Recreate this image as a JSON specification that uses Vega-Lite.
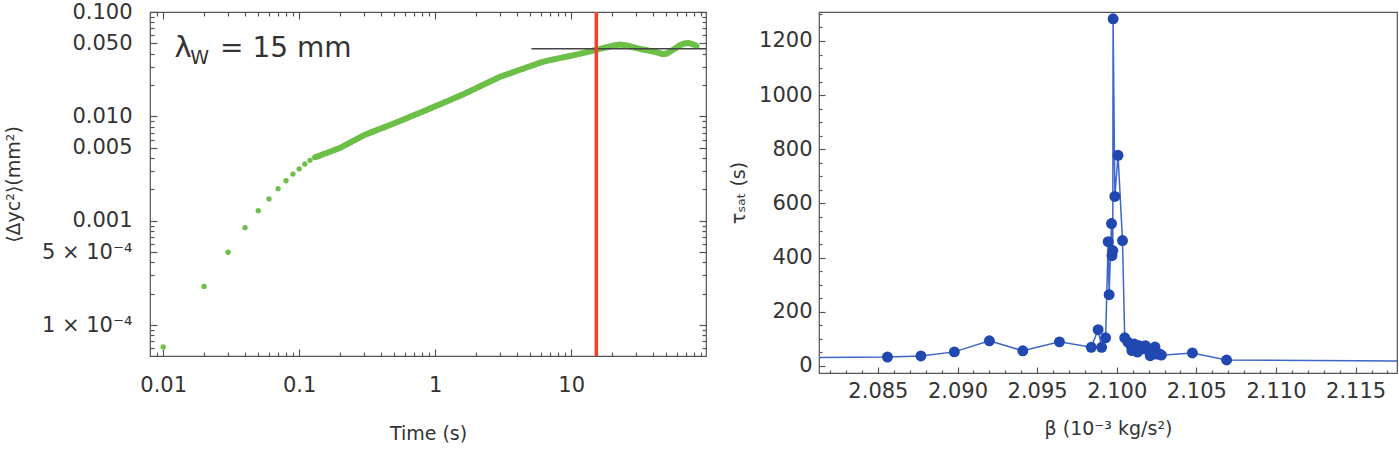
{
  "$schema": "https://vega.github.io/schema/vega-lite/v6.json",
  "padding": {"left": 3, "top": 0, "right": 0, "bottom": 0},
  "background": "white",
  "config": {
    "font": "DejaVu Sans",
    "view": {"stroke": "#555", "strokeWidth": 1.2},
    "axis": {"labelFont": "DejaVu Sans", "labelFontSize": 21, "labelColor": "#333", "titleFont": "DejaVu Sans", "titleFontSize": 19, "titleFontWeight": "normal", "titleColor": "#333", "domain": false, "grid": false, "tickColor": "#555", "tickWidth": 1.2}
  },
  "datasets": {
    "curve": [
      {"t":0.01,"v":6.2e-5},{"t":0.02,"v":2.35e-4},{"t":0.03,"v":5.0e-4},{"t":0.04,"v":8.6e-4},{"t":0.05,"v":1.25e-3},{"t":0.06,"v":1.62e-3},{"t":0.07,"v":2.03e-3},{"t":0.08,"v":2.42e-3},{"t":0.09,"v":2.8e-3},{"t":0.10,"v":3.15e-3},{"t":0.11,"v":3.5e-3},{"t":0.12,"v":3.8e-3},
      {"t":0.13,"v":4.05e-3},{"t":0.14,"v":4.19e-3},{"t":0.15,"v":4.34e-3},{"t":0.16,"v":4.47e-3},{"t":0.17,"v":4.61e-3},{"t":0.18,"v":4.74e-3},{"t":0.19,"v":4.88e-3},{"t":0.20,"v":5.0e-3},{"t":0.22,"v":5.33e-3},{"t":0.24,"v":5.66e-3},{"t":0.26,"v":5.98e-3},{"t":0.28,"v":6.29e-3},{"t":0.30,"v":6.61e-3},{"t":0.33,"v":6.95e-3},{"t":0.36,"v":7.26e-3},{"t":0.39,"v":7.57e-3},{"t":0.42,"v":7.85e-3},{"t":0.46,"v":8.24e-3},{"t":0.50,"v":8.59e-3},{"t":0.54,"v":8.95e-3},{"t":0.58,"v":9.29e-3},{"t":0.63,"v":9.72e-3},{"t":0.68,"v":0.01014},{"t":0.74,"v":0.01059},{"t":0.80,"v":0.01104},{"t":0.87,"v":0.01157},{"t":0.94,"v":0.01207},{"t":1.02,"v":0.01263},{"t":1.1,"v":0.01318},{"t":1.2,"v":0.01383},{"t":1.3,"v":0.01445},{"t":1.4,"v":0.01507},{"t":1.5,"v":0.01564},{"t":1.6,"v":0.01622},{"t":1.75,"v":0.01715},{"t":1.9,"v":0.01806},{"t":2.05,"v":0.01893},{"t":2.2,"v":0.01977},{"t":2.4,"v":0.02089},{"t":2.6,"v":0.02195},{"t":2.8,"v":0.02298},{"t":3.0,"v":0.02399},{"t":3.25,"v":0.02489},{"t":3.5,"v":0.02573},{"t":3.8,"v":0.02673},{"t":4.1,"v":0.02767},{"t":4.4,"v":0.02857},{"t":4.8,"v":0.02973},{"t":5.2,"v":0.03085},{"t":5.6,"v":0.0319},{"t":6.0,"v":0.03293},{"t":6.5,"v":0.03388},{"t":7.0,"v":0.03457},{"t":7.5,"v":0.03524},{"t":8.1,"v":0.03598},{"t":8.7,"v":0.03673},{"t":9.4,"v":0.0375},{"t":10.1,"v":0.03826},{"t":10.9,"v":0.03908},{"t":11.7,"v":0.03994},{"t":12.6,"v":0.04087},{"t":13.6,"v":0.04188},{"t":14.6,"v":0.0428},{"t":15.7,"v":0.04381},{"t":16.9,"v":0.04485},{"t":18.2,"v":0.04592},{"t":19.6,"v":0.04699},{"t":21.1,"v":0.0481},{"t":22.7,"v":0.0488},{"t":24.4,"v":0.0484},{"t":26.3,"v":0.0475},{"t":28.3,"v":0.0462},{"t":30.5,"v":0.045},{"t":32.8,"v":0.044},{"t":35.3,"v":0.0432},{"t":38,"v":0.0424},{"t":41,"v":0.0416},{"t":44,"v":0.0405},{"t":47,"v":0.0395},{"t":50.5,"v":0.04},{"t":54.5,"v":0.0425},{"t":58.5,"v":0.045},{"t":63,"v":0.048},{"t":68,"v":0.05},{"t":73,"v":0.0505},{"t":78.5,"v":0.049},{"t":84,"v":0.0472}
    ],
    "hline": [{"t":5.1,"t2":98,"v":0.0444}],
    "vline": [{"t":15.3}],
    "lam": [{"t":0.0121,"v":0.0373,"label":"λ"}],
    "sub": [{"t":0.0158,"v":0.032,"label":"W"}],
    "eq": [{"t":0.0262,"v":0.0373,"label":"= 15 mm"}],
    "beta": [
      {"b":2.078,"tau":30},{"b":2.0856,"tau":33},{"b":2.0877,"tau":37},{"b":2.0898,"tau":52},{"b":2.092,"tau":93},{"b":2.0941,"tau":56},{"b":2.0964,"tau":89},{"b":2.0984,"tau":69},{"b":2.09883,"tau":134},{"b":2.09905,"tau":69},{"b":2.0993,"tau":104},{"b":2.09946,"tau":459},{"b":2.09952,"tau":263},{"b":2.09967,"tau":526},{"b":2.0997,"tau":407},{"b":2.09975,"tau":426},{"b":2.09977,"tau":1282},{"b":2.09988,"tau":626},{"b":2.10008,"tau":778},{"b":2.10036,"tau":463},{"b":2.1005,"tau":104},{"b":2.1007,"tau":88},{"b":2.1009,"tau":75},{"b":2.10095,"tau":57},{"b":2.1011,"tau":81},{"b":2.1013,"tau":51},{"b":2.1014,"tau":75},{"b":2.1016,"tau":63},{"b":2.1018,"tau":75},{"b":2.102,"tau":57},{"b":2.1021,"tau":38},{"b":2.1022,"tau":51},{"b":2.1024,"tau":70},{"b":2.1025,"tau":44},{"b":2.1027,"tau":44},{"b":2.1028,"tau":40},{"b":2.10475,"tau":48},{"b":2.1069,"tau":22},{"b":2.125,"tau":15}
    ]
  },
  "hconcat": [
    {
      "width": 556,
      "height": 344,
      "resolve": {"axis": {"x": "independent", "y": "independent"}},
      "layer": [
        {
          "data": {"name": "curve"},
          "transform": [{"filter": "datum.t >= 0.125"}],
          "mark": {"type": "line", "color": "#6cbf47", "strokeWidth": 6},
          "encoding": {
            "x": {"field": "t", "type": "quantitative", "scale": {"type": "log", "domain": [0.008, 98], "nice": false}, "axis": null},
            "y": {"field": "v", "type": "quantitative", "scale": {"type": "log", "domain": [5.07e-5, 0.1], "nice": false}, "axis": null}
          }
        },
        {
          "data": {"name": "curve"},
          "mark": {"type": "circle", "color": "#6cbf47", "opacity": 1, "size": 28},
          "encoding": {
            "x": {"field": "t", "type": "quantitative", "scale": {"type": "log", "domain": [0.008, 98], "nice": false},
                  "axis": {"orient": "bottom", "values": [0.01, 0.1, 1, 10], "format": "~g", "tickSize": -7, "labelPadding": 25, "title": "Time (s)", "titlePadding": 29}},
            "y": {"field": "v", "type": "quantitative", "scale": {"type": "log", "domain": [5.07e-5, 0.1], "nice": false},
                  "axis": {"orient": "left", "values": [0.0001, 0.0005, 0.001, 0.005, 0.01, 0.05, 0.1], "tickSize": -7, "labelPadding": 25,
                           "labelExpr": "datum.value >= 0.001 ? format(datum.value, '.3f') : (datum.value > 0.0003 ? '5 × 10⁻⁴' : '1 × 10⁻⁴')",
                           "title": "⟨Δyc²⟩(mm²)", "titlePadding": 18}}
          }
        },
        {
          "data": {"name": "hline"},
          "mark": {"type": "rule", "color": "#444", "strokeWidth": 1.5},
          "encoding": {
            "x": {"field": "t", "type": "quantitative", "scale": {"type": "log", "domain": [0.008, 98], "nice": false},
                  "axis": {"orient": "bottom", "values": [0.009, 0.02, 0.03, 0.04, 0.05, 0.06, 0.07, 0.08, 0.09, 0.2, 0.3, 0.4, 0.5, 0.6, 0.7, 0.8, 0.9, 2, 3, 4, 5, 6, 7, 8, 9, 20, 30, 40, 50, 60, 70, 80, 90], "tickSize": -4, "labels": false, "title": null}},
            "x2": {"field": "t2"},
            "y": {"field": "v", "type": "quantitative", "scale": {"type": "log", "domain": [5.07e-5, 0.1], "nice": false},
                  "axis": {"orient": "left", "values": [6e-5, 7e-5, 8e-5, 9e-5, 0.0002, 0.0003, 0.0004, 0.0006, 0.0007, 0.0008, 0.0009, 0.002, 0.003, 0.004, 0.006, 0.007, 0.008, 0.009, 0.02, 0.03, 0.04, 0.06, 0.07, 0.08, 0.09], "tickSize": -4, "labels": false, "title": null}}
          }
        },
        {
          "data": {"name": "vline"},
          "mark": {"type": "rule", "color": "#f2402c", "strokeWidth": 3.5},
          "encoding": {
            "x": {"field": "t", "type": "quantitative", "scale": {"type": "log", "domain": [0.008, 98], "nice": false},
                  "axis": {"orient": "top", "values": [0.01, 0.1, 1, 10], "tickSize": -7, "labels": false, "title": null}}
          }
        },
        {
          "data": {"name": "lam"},
          "mark": {"type": "text", "fontSize": 29, "align": "left", "baseline": "alphabetic", "color": "#333", "font": "DejaVu Sans"},
          "encoding": {
            "x": {"field": "t", "type": "quantitative", "scale": {"type": "log", "domain": [0.008, 98], "nice": false},
                  "axis": {"orient": "top", "values": [0.009, 0.02, 0.03, 0.04, 0.05, 0.06, 0.07, 0.08, 0.09, 0.2, 0.3, 0.4, 0.5, 0.6, 0.7, 0.8, 0.9, 2, 3, 4, 5, 6, 7, 8, 9, 20, 30, 40, 50, 60, 70, 80, 90], "tickSize": -4, "labels": false, "title": null}},
            "y": {"field": "v", "type": "quantitative", "scale": {"type": "log", "domain": [5.07e-5, 0.1], "nice": false},
                  "axis": {"orient": "right", "values": [0.0001, 0.0005, 0.001, 0.005, 0.01, 0.05, 0.1], "tickSize": -7, "labels": false, "title": null}},
            "text": {"field": "label"}
          }
        },
        {
          "data": {"name": "eq"},
          "mark": {"type": "text", "fontSize": 28, "align": "left", "baseline": "alphabetic", "color": "#333", "font": "DejaVu Sans"},
          "encoding": {
            "x": {"field": "t", "type": "quantitative", "scale": {"type": "log", "domain": [0.008, 98], "nice": false}, "axis": null},
            "y": {"field": "v", "type": "quantitative", "scale": {"type": "log", "domain": [5.07e-5, 0.1], "nice": false},
                  "axis": {"orient": "right", "values": [6e-5, 7e-5, 8e-5, 9e-5, 0.0002, 0.0003, 0.0004, 0.0006, 0.0007, 0.0008, 0.0009, 0.002, 0.003, 0.004, 0.006, 0.007, 0.008, 0.009, 0.02, 0.03, 0.04, 0.06, 0.07, 0.08, 0.09], "tickSize": -4, "labels": false, "title": null}},
            "text": {"field": "label"}
          }
        },
        {
          "data": {"name": "sub"},
          "mark": {"type": "text", "fontSize": 19, "align": "left", "baseline": "alphabetic", "color": "#333", "font": "DejaVu Sans"},
          "encoding": {
            "x": {"field": "t", "type": "quantitative", "scale": {"type": "log", "domain": [0.008, 98], "nice": false}, "axis": null},
            "y": {"field": "v", "type": "quantitative", "scale": {"type": "log", "domain": [5.07e-5, 0.1], "nice": false}, "axis": null},
            "text": {"field": "label"}
          }
        }
      ]
    },
    {
      "width": 578,
      "height": 361,
      "resolve": {"axis": {"x": "independent", "y": "independent"}},
      "layer": [
        {
          "data": {"name": "beta"},
          "mark": {"type": "line", "color": "#3d66c8", "strokeWidth": 1.5, "clip": true},
          "encoding": {
            "x": {"field": "b", "type": "quantitative", "scale": {"domain": [2.0813, 2.1176], "nice": false, "zero": false},
                  "axis": {"orient": "bottom", "values": [2.082, 2.083, 2.084, 2.086, 2.087, 2.088, 2.089, 2.091, 2.092, 2.093, 2.094, 2.096, 2.097, 2.098, 2.099, 2.101, 2.102, 2.103, 2.104, 2.106, 2.107, 2.108, 2.109, 2.111, 2.112, 2.113, 2.114, 2.116, 2.117], "tickSize": -3, "labels": false, "title": null}},
            "y": {"field": "tau", "type": "quantitative", "scale": {"domain": [-26, 1307], "nice": false, "zero": false},
                  "axis": {"orient": "left", "values": [50, 100, 150, 250, 300, 350, 450, 500, 550, 650, 700, 750, 850, 900, 950, 1050, 1100, 1150, 1250, 1300], "tickSize": -3, "labels": false, "title": null}}
          }
        },
        {
          "data": {"name": "beta"},
          "mark": {"type": "circle", "color": "#2148b0", "opacity": 1, "size": 120, "clip": true},
          "encoding": {
            "x": {"field": "b", "type": "quantitative", "scale": {"domain": [2.0813, 2.1176], "nice": false, "zero": false},
                  "axis": {"orient": "bottom", "values": [2.085, 2.09, 2.095, 2.1, 2.105, 2.11, 2.115], "format": ".3f", "tickSize": -6, "labelPadding": 13, "title": "β (10⁻³ kg/s²)", "titlePadding": 18}},
            "y": {"field": "tau", "type": "quantitative", "scale": {"domain": [-26, 1307], "nice": false, "zero": false},
                  "axis": {"orient": "left", "values": [0, 200, 400, 600, 800, 1000, 1200], "format": "d", "tickSize": -6, "labelPadding": 13, "title": "τₛₐₜ (s)", "titlePadding": 10}}
          }
        }
      ]
    }
  ],
  "spacing": 18
}
